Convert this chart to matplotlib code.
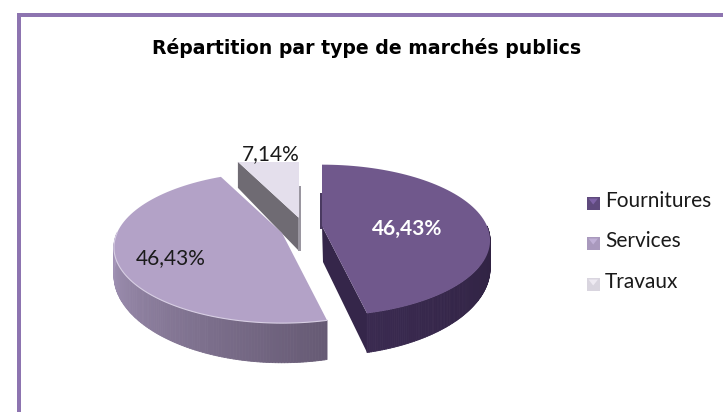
import numpy as np
from matplotlib import pyplot as plt
from matplotlib.collections import PolyCollection
from matplotlib.colors import to_rgb
from matplotlib.patches import Polygon, Rectangle

title = "Répartition par type de marchés publics"
categories = ["Fournitures", "Services", "Travaux"]
values = [46.43, 46.43, 7.14]
labels = ["46,43%", "46,43%", "7,14%"]

top_colors = ["#70588c", "#b3a2c7", "#e4dfec"]
wall_colors = ["#35264a", "#6f6b73", "#6f6b73"]

RX, RY, K, DEPTH = 165, 73, 0.19, 26
APEX = [(322, 226), (282, 233), (299, 218)]


def rim(theta, apex, drop=0.0):
    u, v = np.sin(theta), np.cos(theta)
    d = 1 + K * v
    return apex[0] + RX * u / d, apex[1] - RY * v / d + drop * DEPTH / d ** 2


def wedge_outline(a0, a1, apex):
    th = np.linspace(a0, a1, 80)
    x, y = rim(th, apex)
    return np.column_stack([np.r_[apex[0], x], np.r_[apex[1], y]])


def arc_wall(ax, a0, a1, apex, c_from, c_to, z):
    th = np.linspace(a0, a1, 120)
    x0, y0 = rim(th, apex)
    x1, y1 = rim(th, apex, 1)
    quads = [[(x0[i], y0[i]), (x0[i + 1], y0[i + 1]), (x1[i + 1], y1[i + 1]), (x1[i], y1[i])]
             for i in range(len(th) - 1)]
    c0, c1 = np.array(to_rgb(c_from)), np.array(to_rgb(c_to))
    t = np.linspace(0, 1, len(quads))[:, None]
    cols = c0 * (1 - t) + c1 * t
    ax.add_collection(PolyCollection(quads, facecolors=cols, edgecolors=cols, linewidths=0.6, zorder=z))


def main():
    fig = plt.figure(figsize=(7.23, 4.12), dpi=100)
    ax = fig.add_axes([0, 0, 1, 1])
    ax.set_xlim(0, 723)
    ax.set_ylim(412, 0)
    ax.axis("off")

    # frame is only left + top in the picture
    ax.add_patch(Rectangle((17, 13), 706, 3.5, color="#8d74b0", lw=0, zorder=1))
    ax.add_patch(Rectangle((17, 13), 4, 399, color="#8d74b0", lw=0, zorder=1))

    ax.text(367, 48, title, ha="center", va="center", fontsize=13.6, fontweight="bold",
            family="DejaVu Sans", color="black")

    edges = np.r_[0, np.cumsum(values)] / np.sum(values) * 2 * np.pi
    f0, f1 = edges[0], edges[1]
    s0, s1 = edges[1], edges[2]
    t0, t1 = edges[2], edges[3]

    # Travaux, furthest back; top is cut flat under its label
    ap = APEX[2]
    xa, ya = rim(t0, ap)
    wall = Polygon([(xa, ya), ap, (ap[0], ap[1] + 33), (xa, ya + 26)], color=wall_colors[2], lw=0, zorder=3)
    ax.add_patch(wall)
    ax.add_patch(Rectangle((ap[0] - 1, 186), 2.5, 65, color="#9a96a0", lw=0, zorder=3))
    face = Polygon(wedge_outline(t0, t1, ap), color=top_colors[2], lw=0, zorder=4)
    ax.add_patch(face)
    face.set_clip_path(Rectangle((200, 162), 120, 70, transform=ax.transData))

    # Services
    ap = APEX[1]
    arc_wall(ax, s0, 1.5 * np.pi, ap, "#665a74", "#a798bb", 5)
    ax.add_patch(Polygon(wedge_outline(s0, s1, ap), color=top_colors[1], lw=0, zorder=6))
    x, y = rim(np.linspace(s0, 1.5 * np.pi, 80), ap)
    ax.plot(x, y, color="#d8cfe4", lw=0.8, zorder=7)

    # Fournitures, inner wall then rim wall then top
    ap = APEX[0]
    xe, ye = rim(f1, ap)
    _, drop_y = rim(f1, ap, 1)
    ax.add_patch(Polygon([ap, (xe, ye), (xe, drop_y), (ap[0] + 1, ap[1] + 36)], color=wall_colors[0], lw=0, zorder=5))
    ax.add_patch(Rectangle((ap[0] - 2, 193), 2.5, 36, color="#4a3a60", lw=0, zorder=5))
    arc_wall(ax, 0.5 * np.pi, f1, ap, "#2e2140", "#3a2a50", 5)
    ax.add_patch(Polygon(wedge_outline(f0, f1, ap), color=top_colors[0], lw=0, zorder=6))

    # data labels
    ax.text(407, 229, labels[0], color="white", fontweight="bold", fontsize=15, family="Lato",
            ha="center", va="center", zorder=9)
    ax.text(171, 258, labels[1], color="#1a1a1a", fontsize=15, family="Lato", ha="center", va="center", zorder=9)
    ax.text(271, 154, labels[2], color="#1a1a1a", fontsize=15, family="Lato", ha="center", va="center", zorder=9)

    # legend, squares have a small bevel
    legend_y = [203, 243, 284]
    swatch = ["#5f4a7d", "#a999bd", "#d9d5df"]
    inner = ["#7e62a6", "#c0b0d6", "#eeeaf2"]
    for name, yy, c, ci in zip(categories, legend_y, swatch, inner):
        ax.add_patch(Rectangle((587, yy - 6), 12.5, 12.5, color=c, lw=0, zorder=5))
        ax.add_patch(Polygon([(588.5, yy - 4.5), (598, yy - 4.5), (593.2, yy + 1.5)], color=ci, lw=0, zorder=6))
        ax.text(605, yy - 2, name, fontsize=15, family="Lato", color="#1a1a1a", ha="left", va="center")

    fig.savefig("out.png", dpi=100)


if __name__ == "__main__":
    main()
